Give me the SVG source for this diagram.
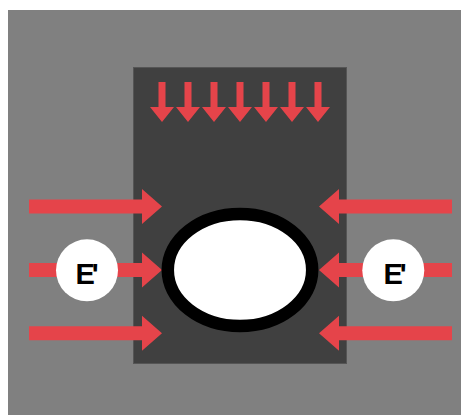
<svg xmlns="http://www.w3.org/2000/svg" width="461" height="415" viewBox="0 0 461 415">
<defs>
<style>
.red{fill:#e5444a}
.lbl{font-family:"Liberation Sans",Arial,sans-serif;font-weight:bold;font-size:29px;fill:#000;letter-spacing:-3.3px}
</style>
<path id="harrow" d="M0,-7 L113,-7 L113,-17.5 L133,0 L113,17.5 L113,7 L0,7 Z"/>
<path id="darrow" d="M-3.5,0 L3.5,0 L3.5,25 L12,25 L0,40 L-12,25 L-3.5,25 Z"/>
</defs>
<rect x="0" y="0" width="461" height="415" fill="#ffffff"/>
<rect x="8" y="10" width="453" height="405" fill="#808080"/>
<g id="block">
<rect x="133.5" y="67.5" width="213" height="296" fill="#404040" stroke="#555555" stroke-width="1"/>
</g>
<g id="connectors" class="red">
<use href="#darrow" x="162" y="82"/>
<use href="#darrow" x="188" y="82"/>
<use href="#darrow" x="214" y="82"/>
<use href="#darrow" x="240" y="82"/>
<use href="#darrow" x="266" y="82"/>
<use href="#darrow" x="292" y="82"/>
<use href="#darrow" x="318" y="82"/>
<use href="#harrow" x="29" y="206.5"/>
<use href="#harrow" x="29" y="270"/>
<use href="#harrow" x="29" y="333.3"/>
<use href="#harrow" transform="translate(452,206.5) scale(-1,1)"/>
<use href="#harrow" transform="translate(452,270) scale(-1,1)"/>
<use href="#harrow" transform="translate(452,333.3) scale(-1,1)"/>
</g>
<g id="hole">
<ellipse cx="240" cy="270" rx="72.2" ry="56" fill="#ffffff" stroke="#000000" stroke-width="12.5"/>
</g>
<g id="label-left">
<circle cx="87" cy="270.3" r="31" fill="#ffffff"/>
<text class="lbl" x="75.6" y="284.3">E'</text>
</g>
<g id="label-right">
<circle cx="393.3" cy="270.3" r="31" fill="#ffffff"/>
<text class="lbl" x="383.6" y="284.3">E'</text>
</g>
</svg>
